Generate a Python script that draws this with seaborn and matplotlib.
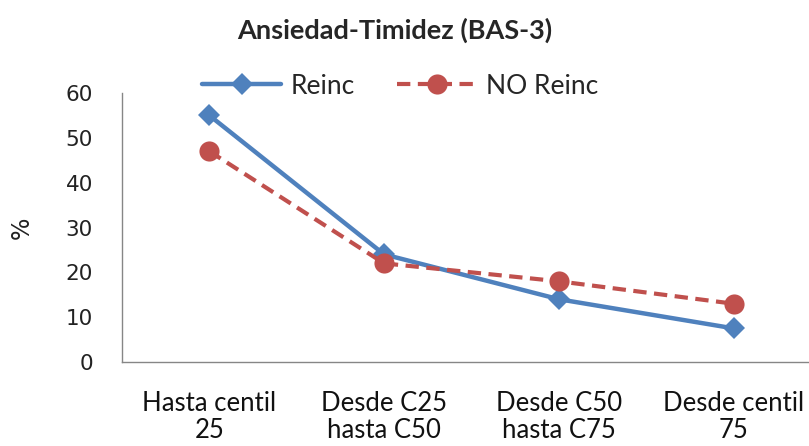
import matplotlib
matplotlib.use("Agg")
import matplotlib.pyplot as plt
import seaborn as sns
import pandas as pd
from matplotlib.lines import Line2D

categories = ["Hasta centil\n25", "Desde C25\nhasta C50", "Desde C50\nhasta C75", "Desde centil\n75"]
reinc = [55, 24, 14, 7.5]
no_reinc = [47, 22, 18, 13]
series_names = ["Reinc", "NO Reinc"]
yticks = [0, 10, 20, 30, 40, 50, 60]

sns.set_theme(style="white")
plt.rcParams['font.family'] = ['DejaVu Sans']

df = pd.DataFrame({
    "cat": categories * 2,
    "pos": list(range(len(categories))) * 2,
    "value": reinc + no_reinc,
    "serie": [series_names[0]] * 4 + [series_names[1]] * 4,
})

blue = "#4F81BD"
red = "#C0504D"
dash = (0, (3.2, 1.8))

fig = plt.figure(figsize=(8.09, 4.46), dpi=100)
ax = fig.add_axes([122/809, 1-362/446, (821-122)/809, (362-93)/446])

sns.lineplot(data=df[df.serie == "Reinc"], x="pos", y="value", ax=ax, color=blue,
             linewidth=3.2, marker="D", markersize=11, markeredgewidth=0, legend=False)
sns.lineplot(data=df[df.serie == "NO Reinc"], x="pos", y="value", ax=ax, color=red,
             linewidth=3.0, marker="o", markersize=14.5, markeredgewidth=0, legend=False)
ax.lines[-1].set_linestyle(dash)

ax.set_xlim(-0.5, 3.5)
ax.set_ylim(0, 60)
ax.set_yticks(yticks)
ax.set_yticklabels([str(v) for v in yticks], fontsize=15.5, color="#222222")
ax.tick_params(axis="y", length=0, pad=21)

ax.set_xticks([-0.5, 0.5, 1.5, 2.5, 3.5])
ax.set_xticklabels([])
ax.tick_params(axis="x", which="major", length=9, width=1, color="#868686", direction="out")
ax.set_xticks(range(len(categories)), minor=True)
ax.set_xticklabels(categories, minor=True, fontsize=18.5, family="Lato", color="#111111",
                   linespacing=1.08)
ax.tick_params(axis="x", which="minor", length=0, pad=21)

for s in ["top", "right"]:
    ax.spines[s].set_visible(False)
for s in ["left", "bottom"]:
    ax.spines[s].set_color("#868686")
    ax.spines[s].set_linewidth(1.0)

ax.set_xlabel("")
ax.set_ylabel("")
fig.text(22/809, 1-228/446, "%", rotation=90, ha="center", va="center",
         fontsize=17, color="#222222")

fig.text(395/809, 1-30/446, "Ansiedad-Timidez (BAS-3)", ha="center", va="center",
         fontsize=19.5, fontweight="bold", family="Lato")

handles = [
    Line2D([], [], color=blue, linewidth=3.2, marker="D", markersize=11, markeredgewidth=0),
    Line2D([], [], color=red, linewidth=3.0, marker="o", markersize=14.5, markeredgewidth=0,
           linestyle=dash),
]
fig.legend(handles, series_names, loc="center", bbox_to_anchor=(400/809, 1-86/446),
           ncol=2, frameon=False, handlelength=3.0, columnspacing=1.6, handletextpad=0.35,
           prop={"family": "Lato", "size": 19})

fig.savefig("out.png", dpi=100)
